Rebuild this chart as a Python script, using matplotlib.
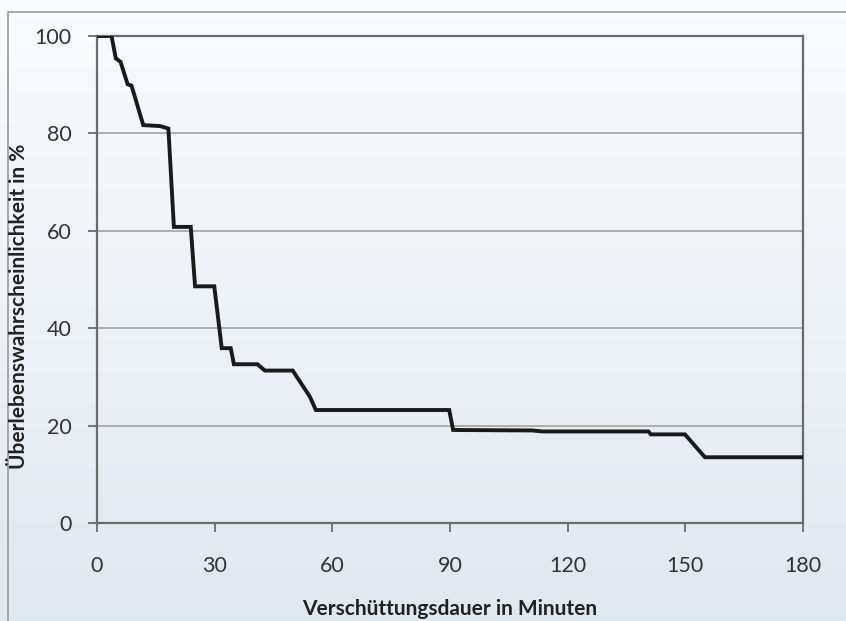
import numpy as np
import matplotlib
matplotlib.use("Agg")
import matplotlib.pyplot as plt
from matplotlib.patches import Rectangle

# Data (minutes, survival probability %)
minutes = [0, 3.7, 4.8, 6.0, 7.8, 8.8, 11.8, 16.1, 18.2, 19.6, 23.9, 25.0, 29.9,
           31.8, 34.1, 34.9, 40.9, 42.8, 49.9, 54.3, 55.8, 89.8, 90.8, 111.0,
           113.5, 140.6, 141.2, 149.9, 155.0, 180]
survival = [100, 100, 95.4, 94.7, 90.1, 89.8, 81.7, 81.5, 81.0, 60.8, 60.8, 48.6, 48.6,
            35.9, 35.9, 32.6, 32.6, 31.3, 31.3, 25.9, 23.2, 23.2, 19.1, 19.0,
            18.8, 18.8, 18.2, 18.2, 13.5, 13.5]

x_ticks = [0, 30, 60, 90, 120, 150, 180]
y_ticks = [0, 20, 40, 60, 80, 100]
x_label = "Verschüttungsdauer in Minuten"
y_label = "Überlebenswahrscheinlichkeit in %"

W, H = 846, 621
plt.rcParams['font.family'] = ['Lato', 'DejaVu Sans']
fig = plt.figure(figsize=(W / 100, H / 100), dpi=100)

# background gradient
bg = fig.add_axes([0, 0, 1, 1], zorder=-10)
grad = np.linspace(0, 1, 256).reshape(-1, 1)
top = np.array([0.980, 0.988, 0.992])
bot = np.array([0.878, 0.910, 0.941])
img = top[None, None, :] * (1 - grad[:, :, None]) + bot[None, None, :] * grad[:, :, None]
bg.imshow(img, aspect='auto', extent=[0, 1, 0, 1], origin='upper')
bg.set_xlim(0, 1); bg.set_ylim(0, 1)
bg.axis('off')
# outer frame
bg.add_patch(Rectangle((8 / W, -0.1), 1.2, 1 - 12 / H + 0.1, fill=False,
                       edgecolor='#9a9a9a', linewidth=1.2, transform=bg.transAxes))

left, right, top_px, bottom_px = 97, 803, 36, 523
ax = fig.add_axes([left / W, 1 - bottom_px / H, (right - left) / W, (bottom_px - top_px) / H])
ax.patch.set_alpha(0)

ax.plot(minutes, survival, color='#1a1a1a', linewidth=2.8, solid_joinstyle='miter', zorder=3)

ax.set_xlim(0, 180)
ax.set_ylim(0, 100)
ax.set_xticks(x_ticks)
ax.set_yticks(y_ticks)
for y in y_ticks[1:-1]:
    ax.axhline(y, color='#a8a8a8', linewidth=1.3, zorder=1)

for s in ax.spines.values():
    s.set_color('#6b6b6b')
    s.set_linewidth(1.6)
ax.tick_params(axis='both', direction='out', length=6.5, width=1.3, color='#6b6b6b',
               labelsize=15.5, labelcolor='#333333')
ax.tick_params(axis='x', pad=17)
ax.tick_params(axis='y', pad=12)

fig.text(450 / W, 1 - 609 / H, x_label, fontsize=15, fontweight='bold', color='#222222',
         ha='center', va='center')
fig.text(19 / W, 1 - 306 / H, y_label, fontsize=15, fontweight='bold', color='#222222',
         ha='center', va='center', rotation=90)

fig.savefig("out.png", dpi=100)
